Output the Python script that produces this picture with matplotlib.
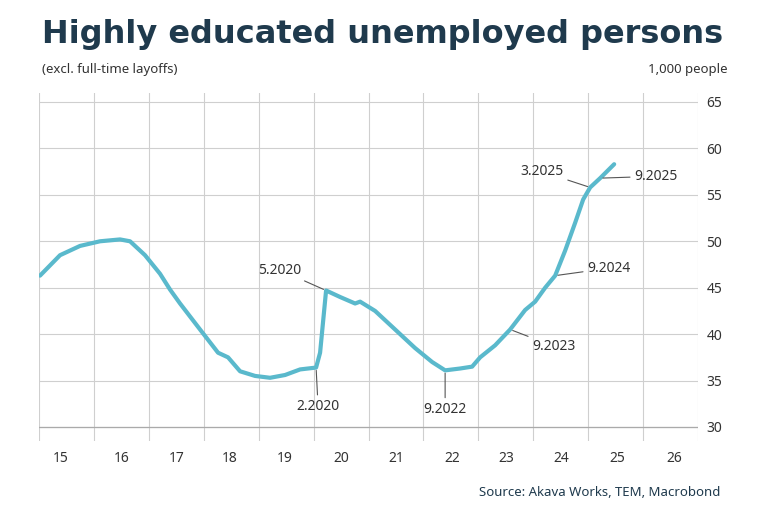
import matplotlib
matplotlib.use("Agg")
import matplotlib.pyplot as plt

plt.rcParams['font.family'] = ['Noto Sans', 'DejaVu Sans']

px = [40,60,80,100,120,130,145,160,170,180,200,218,228,240,255,270,285,300,316,320,326,340,355,360,375,395,415,432,445,460,472,480,495,510,525,535,545,555,565,575,583,590,600,614]
vals = [46.3,48.5,49.5,50.0,50.2,50.0,48.5,46.5,44.8,43.3,40.5,38.0,37.5,36.0,35.5,35.3,35.6,36.2,36.4,38.0,44.7,44.0,43.3,43.5,42.5,40.5,38.5,37.0,36.1,36.3,36.5,37.5,38.8,40.5,42.6,43.5,45.0,46.3,49.0,52.0,54.5,55.8,56.8,58.3]
PXY = 54.9
years = [2015 + (p - 39) / PXY for p in px]
xlabels = ["15","16","17","18","19","20","21","22","23","24","25","26"]

L, R, T, B = 39, 698, 93, 441
fig = plt.figure(figsize=(7.68, 5.13), dpi=100)
ax = fig.add_axes([L/768, 1-B/513, (R-L)/768, (B-T)/513])
ax.plot(years, vals, color="#5ab9cc", lw=3, solid_capstyle="round", zorder=3)
ax.set_xlim(2015, 2027)
upp = 35 / (427 - 102)
ax.set_ylim(30 - (B-427)*upp, 65 + (102-T)*upp)
ax.set_xticks(range(2015, 2028))
ax.set_xticklabels([])
ax.tick_params(axis="x", length=0)
for i, l in enumerate(xlabels):
    xp = [61,122,177,230,285,341,396,452,506,561,617,674][i]
    ax.text(2015 + (xp - 39)/PXY, -0.05, l, transform=ax.get_xaxis_transform(),
            ha="center", va="center", fontsize=10, color="#333333")
ax.set_yticks(range(30, 70, 5))
ax.yaxis.tick_right()
ax.tick_params(axis="y", length=0, labelsize=10, labelcolor="#333333", pad=6)
ax.grid(True, color="#cfcfcf", lw=0.8)
ax.axhline(30, color="#aaaaaa", lw=0.9)
for s in ax.spines.values():
    s.set_visible(False)
ax.set_axisbelow(True)

def ann(txt, xy_px, xyt_px, ha):
    i = px.index(xy_px)
    ax.annotate(txt, (years[i], vals[i]), xytext=(2015 + (xyt_px[0]-39)/PXY, xyt_px[1]),
                fontsize=10, color="#333333", ha=ha, va="center",
                arrowprops=dict(arrowstyle="-", color="#555555", lw=0.8, shrinkA=1, shrinkB=2))
ann("5.2020", 326, (280, 46.9), "center")
ann("2.2020", 316, (318, 32.2), "center")
ann("9.2022", 445, (445, 31.9), "center")
ann("9.2023", 510, (532, 38.7), "left")
ann("9.2024", 555, (587, 47.1), "left")
ann("3.2025", 590, (542, 57.5), "center")
ann("9.2025", 600, (634, 57.0), "left")

fig.text(42/768, 1-35/513, "Highly educated unemployed persons", fontsize=23, fontweight="bold",
         color="#1f3a4d", va="center", family="DejaVu Sans")
fig.text(42/768, 1-70/513, "(excl. full-time layoffs)", fontsize=9.5, color="#333333", va="center")
fig.text(728/768, 1-70/513, "1,000 people", fontsize=9.5, color="#333333", va="center", ha="right")
fig.text(720/768, 1-493/513, "Source: Akava Works, TEM, Macrobond", fontsize=9.5, color="#1f3a4d", va="center", ha="right")
fig.savefig("out.png", dpi=100)
